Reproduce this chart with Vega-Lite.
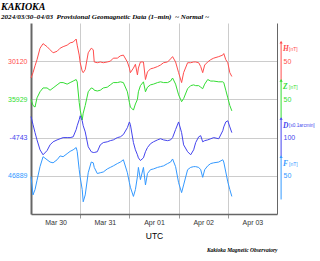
{
"$schema":"https://vega.github.io/schema/vega-lite/v6.json",
"width":246,"height":191,"autosize":"none",
"padding":{"left":31,"top":23,"right":43,"bottom":47},
"title":{"text":"KAKIOKA","subtitle":"2024/03/30–04/03\u00a0\u00a0Provisional Geomagnetic Data (1–min)\u00a0\u00a0~ Normal ~","anchor":"start","frame":"group","dx":-30,"offset":3,"font":"Liberation Serif","fontStyle":"italic","fontWeight":"bold","fontSize":10,"color":"#000","subtitleFont":"Liberation Serif","subtitleFontStyle":"italic","subtitleFontWeight":"bold","subtitleFontSize":7.1,"subtitleColor":"#000","subtitlePadding":1},
"data":{"values":[
{"t":"2024-03-30T00:00Z","H":30098,"Z":35929,"D":-4688,"F":46888},
{"t":"2024-03-30T00:59Z","H":30105,"Z":35921,"D":-4709,"F":46864},
{"t":"2024-03-30T01:58Z","H":30114,"Z":35919,"D":-4730,"F":46871},
{"t":"2024-03-30T02:56Z","H":30122,"Z":35931,"D":-4749,"F":46883},
{"t":"2024-03-30T04:24Z","H":30137,"Z":35939,"D":-4775,"F":46901},
{"t":"2024-03-30T05:53Z","H":30143,"Z":35944,"D":-4788,"F":46914},
{"t":"2024-03-30T07:50Z","H":30139,"Z":35944,"D":-4777,"F":46910},
{"t":"2024-03-30T09:18Z","H":30135,"Z":35941,"D":-4762,"F":46907},
{"t":"2024-03-30T10:47Z","H":30131,"Z":35944,"D":-4754,"F":46906},
{"t":"2024-03-30T12:44Z","H":30133,"Z":35948,"D":-4749,"F":46910},
{"t":"2024-03-30T14:12Z","H":30137,"Z":35951,"D":-4746,"F":46915},
{"t":"2024-03-30T15:40Z","H":30139,"Z":35951,"D":-4743,"F":46914},
{"t":"2024-03-30T17:38Z","H":30141,"Z":35949,"D":-4743,"F":46918},
{"t":"2024-03-30T19:06Z","H":30144,"Z":35951,"D":-4743,"F":46921},
{"t":"2024-03-30T20:34Z","H":30145,"Z":35953,"D":-4741,"F":46923},
{"t":"2024-03-30T22:02Z","H":30149,"Z":35955,"D":-4722,"F":46926},
{"t":"2024-03-30T22:32Z","H":30141,"Z":35952,"D":-4712,"F":46921},
{"t":"2024-03-30T23:31Z","H":30128,"Z":35925,"D":-4696,"F":46897},
{"t":"2024-03-31T00:00Z","H":30118,"Z":35915,"D":-4686,"F":46887},
{"t":"2024-03-31T00:59Z","H":30107,"Z":35902,"D":-4699,"F":46871},
{"t":"2024-03-31T01:28Z","H":30105,"Z":35911,"D":-4712,"F":46855},
{"t":"2024-03-31T02:27Z","H":30109,"Z":35921,"D":-4728,"F":46864},
{"t":"2024-03-31T03:55Z","H":30131,"Z":35939,"D":-4767,"F":46893},
{"t":"2024-03-31T05:23Z","H":30137,"Z":35944,"D":-4780,"F":46907},
{"t":"2024-03-31T06:22Z","H":30135,"Z":35943,"D":-4782,"F":46906},
{"t":"2024-03-31T06:51Z","H":30119,"Z":35941,"D":-4782,"F":46900},
{"t":"2024-03-31T08:20Z","H":30118,"Z":35940,"D":-4780,"F":46892},
{"t":"2024-03-31T09:48Z","H":30119,"Z":35941,"D":-4762,"F":46893},
{"t":"2024-03-31T11:16Z","H":30118,"Z":35944,"D":-4756,"F":46894},
{"t":"2024-03-31T13:13Z","H":30119,"Z":35945,"D":-4754,"F":46898},
{"t":"2024-03-31T14:41Z","H":30120,"Z":35948,"D":-4751,"F":46900},
{"t":"2024-03-31T16:10Z","H":30124,"Z":35951,"D":-4749,"F":46902},
{"t":"2024-03-31T18:07Z","H":30124,"Z":35951,"D":-4743,"F":46905},
{"t":"2024-03-31T19:35Z","H":30127,"Z":35952,"D":-4741,"F":46907},
{"t":"2024-03-31T21:04Z","H":30128,"Z":35951,"D":-4735,"F":46910},
{"t":"2024-03-31T23:01Z","H":30119,"Z":35939,"D":-4717,"F":46893},
{"t":"2024-04-01T00:00Z","H":30111,"Z":35925,"D":-4702,"F":46880},
{"t":"2024-04-01T00:29Z","H":30105,"Z":35919,"D":-4709,"F":46874},
{"t":"2024-04-01T01:58Z","H":30111,"Z":35915,"D":-4756,"F":46862},
{"t":"2024-04-01T02:56Z","H":30116,"Z":35923,"D":-4775,"F":46871},
{"t":"2024-04-01T03:55Z","H":30102,"Z":35929,"D":-4788,"F":46888},
{"t":"2024-04-01T04:24Z","H":30111,"Z":35939,"D":-4796,"F":46900},
{"t":"2024-04-01T05:23Z","H":30119,"Z":35947,"D":-4803,"F":46884},
{"t":"2024-04-01T06:51Z","H":30119,"Z":35952,"D":-4796,"F":46900},
{"t":"2024-04-01T07:50Z","H":30096,"Z":35939,"D":-4780,"F":46877},
{"t":"2024-04-01T08:49Z","H":30106,"Z":35945,"D":-4769,"F":46892},
{"t":"2024-04-01T10:17Z","H":30110,"Z":35948,"D":-4759,"F":46897},
{"t":"2024-04-01T11:45Z","H":30111,"Z":35949,"D":-4754,"F":46898},
{"t":"2024-04-01T13:43Z","H":30113,"Z":35951,"D":-4749,"F":46900},
{"t":"2024-04-01T15:11Z","H":30115,"Z":35952,"D":-4746,"F":46901},
{"t":"2024-04-01T16:39Z","H":30118,"Z":35951,"D":-4749,"F":46902},
{"t":"2024-04-01T18:37Z","H":30119,"Z":35951,"D":-4751,"F":46905},
{"t":"2024-04-01T20:05Z","H":30123,"Z":35953,"D":-4749,"F":46907},
{"t":"2024-04-01T21:04Z","H":30126,"Z":35957,"D":-4743,"F":46911},
{"t":"2024-04-01T22:32Z","H":30119,"Z":35949,"D":-4722,"F":46901},
{"t":"2024-04-02T00:00Z","H":30105,"Z":35935,"D":-4702,"F":46880},
{"t":"2024-04-02T01:28Z","H":30092,"Z":35926,"D":-4730,"F":46867},
{"t":"2024-04-02T02:27Z","H":30105,"Z":35930,"D":-4762,"F":46877},
{"t":"2024-04-02T04:24Z","H":30118,"Z":35943,"D":-4780,"F":46897},
{"t":"2024-04-02T05:53Z","H":30118,"Z":35947,"D":-4788,"F":46900},
{"t":"2024-04-02T07:21Z","H":30119,"Z":35948,"D":-4775,"F":46901},
{"t":"2024-04-02T08:20Z","H":30119,"Z":35947,"D":-4756,"F":46901},
{"t":"2024-04-02T09:48Z","H":30118,"Z":35947,"D":-4741,"F":46900},
{"t":"2024-04-02T10:47Z","H":30113,"Z":35945,"D":-4738,"F":46897},
{"t":"2024-04-02T11:45Z","H":30105,"Z":35943,"D":-4754,"F":46887},
{"t":"2024-04-02T12:44Z","H":30115,"Z":35949,"D":-4751,"F":46897},
{"t":"2024-04-02T14:12Z","H":30119,"Z":35955,"D":-4749,"F":46902},
{"t":"2024-04-02T15:40Z","H":30122,"Z":35953,"D":-4746,"F":46905},
{"t":"2024-04-02T17:08Z","H":30124,"Z":35953,"D":-4743,"F":46906},
{"t":"2024-04-02T19:35Z","H":30126,"Z":35952,"D":-4746,"F":46907},
{"t":"2024-04-02T21:33Z","H":30128,"Z":35952,"D":-4725,"F":46910},
{"t":"2024-04-02T22:02Z","H":30130,"Z":35951,"D":-4715,"F":46907},
{"t":"2024-04-02T23:01Z","H":30122,"Z":35941,"D":-4702,"F":46894},
{"t":"2024-04-03T00:00Z","H":30118,"Z":35931,"D":-4699,"F":46881},
{"t":"2024-04-03T00:59Z","H":30105,"Z":35921,"D":-4715,"F":46871},
{"t":"2024-04-03T01:58Z","H":30100,"Z":35914,"D":-4730,"F":46862}
]},
"layer":[
{"layer":[
 {"mark":{"type":"line","color":"#ff4d4d","strokeWidth":1},
  "encoding":{
   "x":{"field":"t","type":"temporal","scale":{"type":"utc","nice":false,"domain":[{"year":2024,"month":3,"date":30,"utc":true},{"year":2024,"month":4,"date":4,"utc":true}]},
     "axis":{"orient":"bottom","values":[{"year":2024,"month":3,"date":31,"utc":true},{"year":2024,"month":4,"date":1,"utc":true},{"year":2024,"month":4,"date":2,"utc":true},{"year":2024,"month":4,"date":3,"utc":true}],"grid":true,"gridColor":"#cccccc","labels":false,"ticks":true,"tickSize":4,"tickColor":"#999999","domain":true,"domainColor":"#666666","domainWidth":1.5,"title":null}},
   "y":{"field":"H","type":"quantitative","scale":{"domain":[29920,30170],"nice":false,"zero":false},
     "axis":{"orient":"left","values":[30120],"labelExpr":"'' + datum.value","grid":true,"gridColor":"#cccccc","ticks":false,"domain":true,"domainColor":"#666666","domainWidth":2,"labelColor":"#ff4d4d","labelFontSize":7,"labelPadding":4,"title":null}}}},
 {"data":{"values":[{}]},"mark":{"type":"rule","color":"#ff4d4d","strokeWidth":1},
  "encoding":{"x":{"datum":{"year":2024,"month":4,"date":4,"hours":2,"utc":true},"type":"temporal","axis":null},
   "y":{"datum":30145,"type":"quantitative","axis":{"orient":"right","values":[30120],"labelExpr":"'50'","grid":false,"ticks":false,"domain":true,"domainColor":"#666666","domainWidth":1,"labelColor":"#ff4d4d","labelFontSize":7,"labelPadding":6,"title":null}},
   "y2":{"datum":30095}}},
 {"data":{"values":[{}]},"mark":{"type":"point","shape":"triangle-up","filled":true,"color":"#ff4d4d","size":10,"opacity":1},
  "encoding":{"x":{"datum":{"year":2024,"month":4,"date":4,"hours":2,"utc":true},"type":"temporal","axis":null},"y":{"datum":30145,"type":"quantitative","axis":null}}},
 {"data":{"values":[{}]},"mark":{"type":"text","text":"H","font":"Liberation Serif","fontStyle":"italic","fontWeight":"bold","fontSize":7.5,"color":"#ff4d4d","align":"left","baseline":"middle","dx":2,"dy":7},
  "encoding":{"x":{"datum":{"year":2024,"month":4,"date":4,"hours":2,"utc":true},"type":"temporal","axis":null},"y":{"datum":30145,"type":"quantitative","axis":null}}},
 {"data":{"values":[{}]},"mark":{"type":"text","text":"[nT]","fontSize":5,"color":"#ff4d4d","align":"left","baseline":"middle","dx":8,"dy":7},
  "encoding":{"x":{"datum":{"year":2024,"month":4,"date":4,"hours":2,"utc":true},"type":"temporal","axis":null},"y":{"datum":30145,"type":"quantitative","axis":null}}}
],"resolve":{"scale":{"y":"shared"},"axis":{"y":"independent","x":"independent"}}},
{"layer":[
 {"mark":{"type":"line","color":"#33dd33","strokeWidth":1},
  "encoding":{
   "x":{"field":"t","type":"temporal","scale":{"type":"utc","nice":false,"domain":[{"year":2024,"month":3,"date":30,"utc":true},{"year":2024,"month":4,"date":4,"utc":true}]},
     "axis":{"orient":"bottom","values":[{"year":2024,"month":3,"date":30,"hours":12,"utc":true},{"year":2024,"month":3,"date":31,"hours":12,"utc":true},{"year":2024,"month":4,"date":1,"hours":12,"utc":true},{"year":2024,"month":4,"date":2,"hours":12,"utc":true},{"year":2024,"month":4,"date":3,"hours":12,"utc":true}],"format":"%b %d","grid":false,"ticks":false,"domain":false,"labelColor":"#333333","labelFontSize":7,"labelPadding":4,"title":"UTC","titleFontSize":8.5,"titleFontWeight":"normal","titleColor":"black","titlePadding":6}},
   "y":{"field":"Z","type":"quantitative","scale":{"domain":[35779,36029],"nice":false,"zero":false},
     "axis":{"orient":"left","values":[35929],"labelExpr":"'' + datum.value","grid":true,"gridColor":"#cccccc","ticks":false,"domain":false,"labelColor":"#33dd33","labelFontSize":7,"labelPadding":4,"title":null}}}},
 {"data":{"values":[{}]},"mark":{"type":"rule","color":"#33dd33","strokeWidth":1},
  "encoding":{"x":{"datum":{"year":2024,"month":4,"date":4,"hours":2,"utc":true},"type":"temporal","axis":null},
   "y":{"datum":35954,"type":"quantitative","axis":{"orient":"right","values":[35929],"labelExpr":"'50'","grid":false,"ticks":false,"domain":false,"labelColor":"#33dd33","labelFontSize":7,"labelPadding":6,"title":null}},
   "y2":{"datum":35904}}},
 {"data":{"values":[{}]},"mark":{"type":"point","shape":"triangle-up","filled":true,"color":"#33dd33","size":10,"opacity":1},
  "encoding":{"x":{"datum":{"year":2024,"month":4,"date":4,"hours":2,"utc":true},"type":"temporal","axis":null},"y":{"datum":35954,"type":"quantitative","axis":null}}},
 {"data":{"values":[{}]},"mark":{"type":"text","text":"Z","font":"Liberation Serif","fontStyle":"italic","fontWeight":"bold","fontSize":7.5,"color":"#33dd33","align":"left","baseline":"middle","dx":2,"dy":7},
  "encoding":{"x":{"datum":{"year":2024,"month":4,"date":4,"hours":2,"utc":true},"type":"temporal","axis":null},"y":{"datum":35954,"type":"quantitative","axis":null}}},
 {"data":{"values":[{}]},"mark":{"type":"text","text":"[nT]","fontSize":5,"color":"#33dd33","align":"left","baseline":"middle","dx":8,"dy":7},
  "encoding":{"x":{"datum":{"year":2024,"month":4,"date":4,"hours":2,"utc":true},"type":"temporal","axis":null},"y":{"datum":35954,"type":"quantitative","axis":null}}}
],"resolve":{"scale":{"y":"shared"},"axis":{"y":"independent","x":"independent"}}},
{"layer":[
 {"mark":{"type":"line","color":"#4444ee","strokeWidth":1},
  "encoding":{
   "x":{"field":"t","type":"temporal","scale":{"type":"utc","nice":false,"domain":[{"year":2024,"month":3,"date":30,"utc":true},{"year":2024,"month":4,"date":4,"utc":true}]},
     "axis":{"orient":"bottom","labels":false,"ticks":false,"domain":false,"grid":false,"title":"Kakioka Magnetic Observatory","titleAnchor":"end","titleFont":"Liberation Serif","titleFontStyle":"italic","titleFontWeight":"bold","titleFontSize":5.5,"titleColor":"#000000","titlePadding":33}},
   "y":{"field":"D","type":"quantitative","scale":{"domain":[-4943,-4443],"nice":false,"zero":false},
     "axis":{"orient":"left","values":[-4743],"labelExpr":"'' + datum.value","grid":true,"gridColor":"#cccccc","ticks":false,"domain":false,"labelColor":"#4444ee","labelFontSize":7,"labelPadding":4,"title":null}}}},
 {"data":{"values":[{}]},"mark":{"type":"rule","color":"#4444ee","strokeWidth":1},
  "encoding":{"x":{"datum":{"year":2024,"month":4,"date":4,"hours":2,"utc":true},"type":"temporal","axis":null},
   "y":{"datum":-4693,"type":"quantitative","axis":{"orient":"right","values":[-4743],"labelExpr":"'100'","grid":false,"ticks":false,"domain":false,"labelColor":"#4444ee","labelFontSize":7,"labelPadding":6,"title":null}},
   "y2":{"datum":-4793}}},
 {"data":{"values":[{}]},"mark":{"type":"point","shape":"triangle-up","filled":true,"color":"#4444ee","size":10,"opacity":1},
  "encoding":{"x":{"datum":{"year":2024,"month":4,"date":4,"hours":2,"utc":true},"type":"temporal","axis":null},"y":{"datum":-4693,"type":"quantitative","axis":null}}},
 {"data":{"values":[{}]},"mark":{"type":"text","text":"D","font":"Liberation Serif","fontStyle":"italic","fontWeight":"bold","fontSize":7.5,"color":"#4444ee","align":"left","baseline":"middle","dx":2,"dy":7},
  "encoding":{"x":{"datum":{"year":2024,"month":4,"date":4,"hours":2,"utc":true},"type":"temporal","axis":null},"y":{"datum":-4693,"type":"quantitative","axis":null}}},
 {"data":{"values":[{}]},"mark":{"type":"text","text":"[x0.1arcmin]","fontSize":4.7,"color":"#4444ee","align":"left","baseline":"middle","dx":8,"dy":7},
  "encoding":{"x":{"datum":{"year":2024,"month":4,"date":4,"hours":2,"utc":true},"type":"temporal","axis":null},"y":{"datum":-4693,"type":"quantitative","axis":null}}}
],"resolve":{"scale":{"y":"shared"},"axis":{"y":"independent","x":"independent"}}},
{"layer":[
 {"mark":{"type":"line","color":"#3399ff","strokeWidth":1},
  "encoding":{
   "x":{"field":"t","type":"temporal","scale":{"type":"utc","nice":false,"domain":[{"year":2024,"month":3,"date":30,"utc":true},{"year":2024,"month":4,"date":4,"utc":true}]},"axis":null},
   "y":{"field":"F","type":"quantitative","scale":{"domain":[46839,47089],"nice":false,"zero":false},
     "axis":{"orient":"left","values":[46889],"labelExpr":"'' + datum.value","grid":true,"gridColor":"#cccccc","ticks":false,"domain":false,"labelColor":"#3399ff","labelFontSize":7,"labelPadding":4,"title":null}}}},
 {"data":{"values":[{}]},"mark":{"type":"rule","color":"#3399ff","strokeWidth":1},
  "encoding":{"x":{"datum":{"year":2024,"month":4,"date":4,"hours":2,"utc":true},"type":"temporal","axis":null},
   "y":{"datum":46914,"type":"quantitative","axis":{"orient":"right","values":[46889],"labelExpr":"'50'","grid":false,"ticks":false,"domain":false,"labelColor":"#3399ff","labelFontSize":7,"labelPadding":6,"title":null}},
   "y2":{"datum":46858}}},
 {"data":{"values":[{}]},"mark":{"type":"point","shape":"triangle-up","filled":true,"color":"#3399ff","size":10,"opacity":1},
  "encoding":{"x":{"datum":{"year":2024,"month":4,"date":4,"hours":2,"utc":true},"type":"temporal","axis":null},"y":{"datum":46914,"type":"quantitative","axis":null}}},
 {"data":{"values":[{}]},"mark":{"type":"text","text":"F","font":"Liberation Serif","fontStyle":"italic","fontWeight":"bold","fontSize":7.5,"color":"#3399ff","align":"left","baseline":"middle","dx":2,"dy":7},
  "encoding":{"x":{"datum":{"year":2024,"month":4,"date":4,"hours":2,"utc":true},"type":"temporal","axis":null},"y":{"datum":46914,"type":"quantitative","axis":null}}},
 {"data":{"values":[{}]},"mark":{"type":"text","text":"[nT]","fontSize":5,"color":"#3399ff","align":"left","baseline":"middle","dx":8,"dy":7},
  "encoding":{"x":{"datum":{"year":2024,"month":4,"date":4,"hours":2,"utc":true},"type":"temporal","axis":null},"y":{"datum":46914,"type":"quantitative","axis":null}}}
],"resolve":{"scale":{"y":"shared"},"axis":{"y":"independent","x":"independent"}}}
],
"resolve":{"scale":{"y":"independent"},"axis":{"y":"independent","x":"independent"}},
"config":{"view":{"stroke":null},"font":"Liberation Sans","axis":{"labelFont":"Liberation Sans","titleFont":"Liberation Sans","titleColor":"#000000"}}
}
